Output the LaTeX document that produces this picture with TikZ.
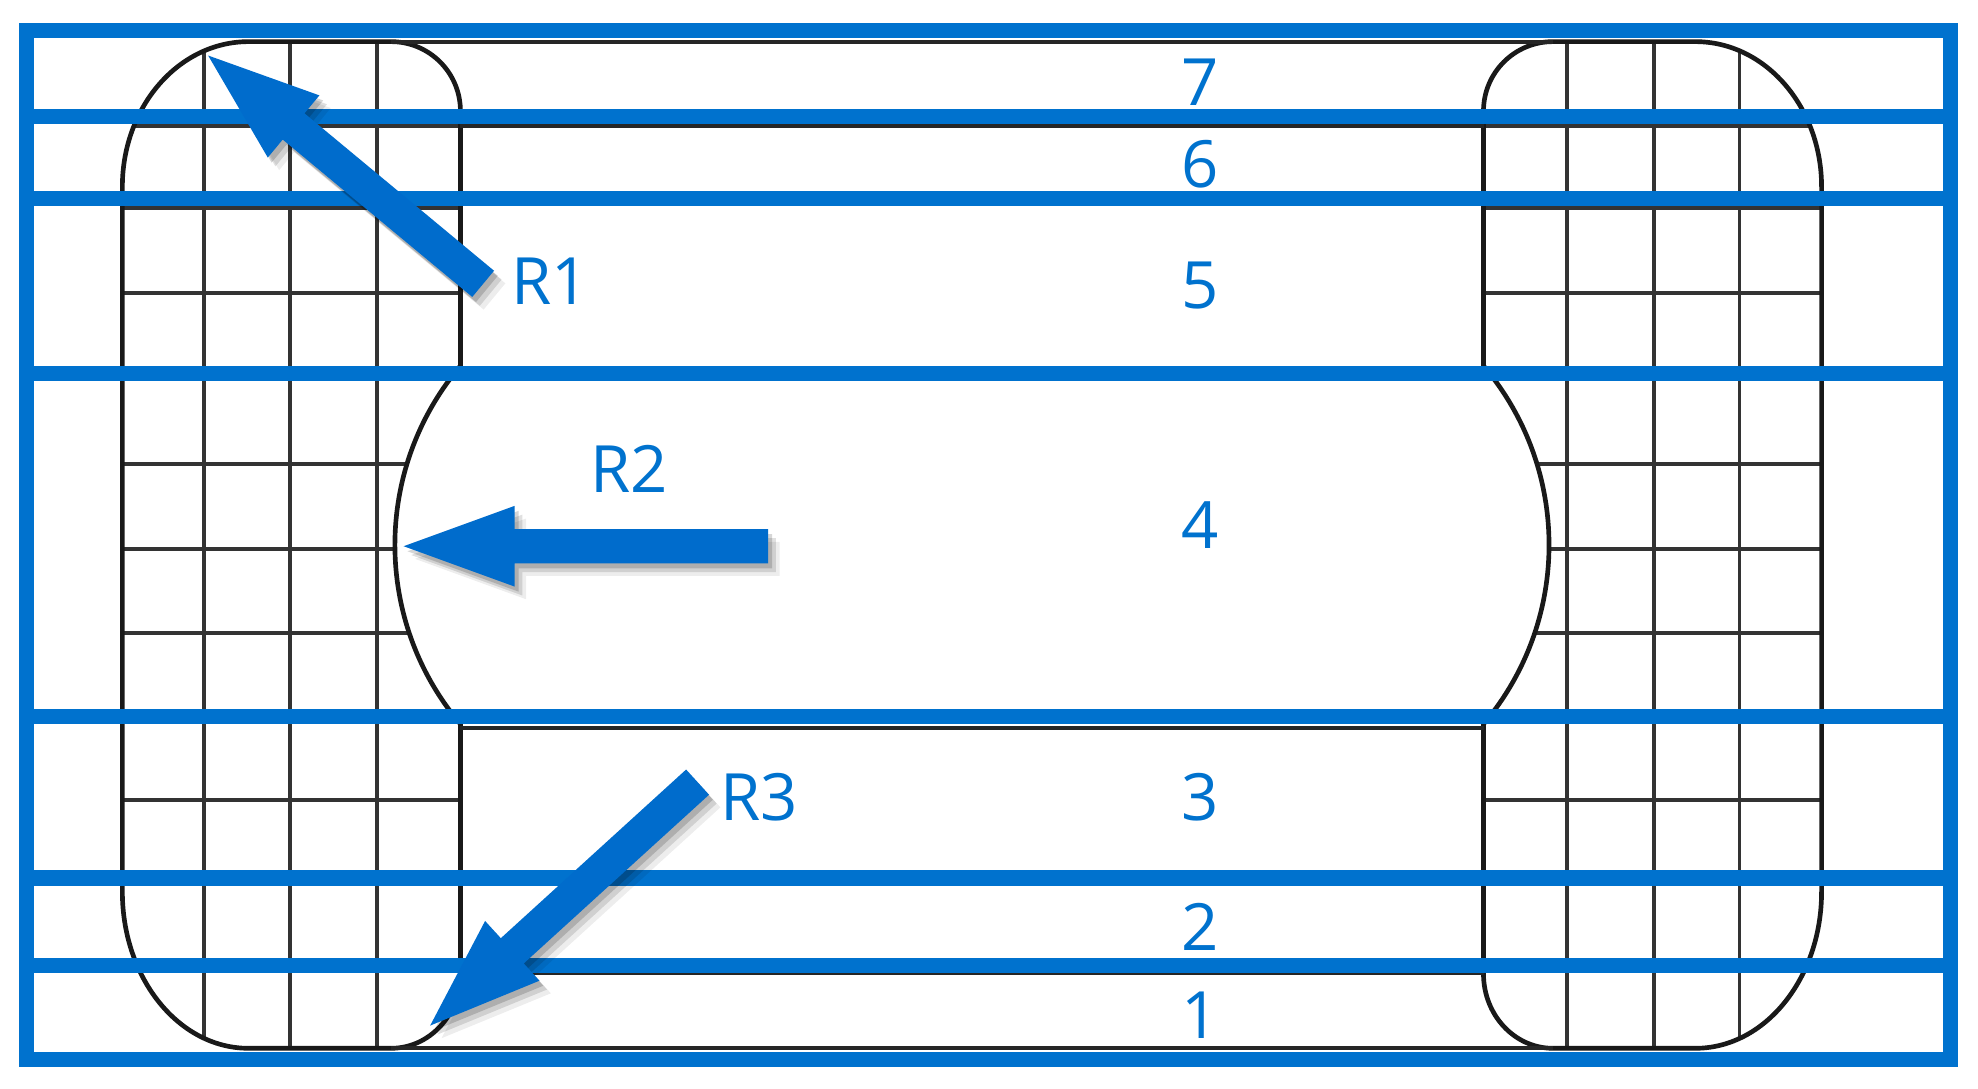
\documentclass[tikz,border=0pt]{standalone}
\usepackage{fontspec}
\setmainfont{Open Sans}
\usetikzlibrary{calc}
\definecolor{bl}{RGB}{0,114,206}
\definecolor{arrbl}{RGB}{0,108,204}
\newcommand\blockpath{(97,148) arc[start angle=180,end angle=270,x radius=100,y radius=115] -- (310,33) arc[start angle=270,end angle=360,radius=55] -- (365,290) arc[start angle=220.2,end angle=139.8,radius=220] -- (365,772) arc[start angle=0,end angle=90,x radius=55,y radius=59] -- (197,831) arc[start angle=90,end angle=180,x radius=100,y radius=124] -- cycle}
\newcommand\drawblock{%
  \begin{scope}
    \clip \blockpath;
    \foreach \gx in {162,230,299} \draw[gridline] (\gx,0) -- (\gx,863);
    \foreach \gy in {100,165,232,368,435,502,634} \draw[gridline] (0,\gy) -- (600,\gy);
  \end{scope}
  \draw[outline] \blockpath;
}
\newcommand\arrowshape[2]{($(#1)!0.135cm!90:(#2)$) -- ($(#1b)!0.135cm!90:(#2)$) -- ($(#1b)!0.32cm!90:(#2)$) -- (#2) -- ($(#1b)!0.32cm!-90:(#2)$) -- ($(#1b)!0.135cm!-90:(#2)$) -- ($(#1)!0.135cm!-90:(#2)$) -- cycle}
\newcommand\fatarrow[2]{%
  \coordinate (#1b) at ($(#2)!0.88cm!(#1)$);
  \fill[black,opacity=0.07,transform canvas={shift={(0.09cm,-0.10cm)}}] \arrowshape{#1}{#2};
  \fill[black,opacity=0.12,transform canvas={shift={(0.06cm,-0.07cm)}}] \arrowshape{#1}{#2};
  \fill[black,opacity=0.16,transform canvas={shift={(0.03cm,-0.04cm)}}] \arrowshape{#1}{#2};
  \fill[arrbl] \arrowshape{#1}{#2};
}
\begin{document}
\begin{tikzpicture}[x=0.01cm,y=-0.01cm,
  gridline/.style={draw=black!80,line width=0.85pt},
  outline/.style={draw=black!90,line width=1.05pt},
  midline/.style={draw=black!85,line width=0.9pt},
  blueline/.style={draw=bl,line width=3.4pt},
  lab/.style={text=bl,inner sep=0pt,font=\fontsize{14.7}{17}\selectfont}]
\fill[white] (0,0) rectangle (1568,863);
\useasboundingbox (0,0) rectangle (1568,863);
% black outline drawing
\drawblock
\begin{scope}[shift={(1541,0)},xscale=-1]
  \drawblock
\end{scope}
\draw[midline] (310,33) -- (1231,33);
\draw[midline] (365,100) -- (1176,100);
\draw[midline] (365,577) -- (1176,577);
\draw[midline] (365,771) -- (1176,771);
\draw[midline] (310,831) -- (1231,831);
% blue frame and layer lines
\draw[blueline] (21,24) rectangle (1546,840);
\foreach \yy in {92,157,296,568,696,765}
  \draw[blueline] (21,\yy) -- (1546,\yy);
% layer numbers
\node[lab] (n7) at (951,65) {7};
\node[lab] (n6) at (951,130) {6};
\node[lab] (n5) at (951,226) {5};
\node[lab] (n4) at (951,416) {4};
\node[lab] (n3) at (951,632) {3};
\node[lab] (n2) at (951,735) {2};
\node[lab] (n1) at (951,805) {1};
% arrows
\coordinate (a1t) at (383,225);
\coordinate (a1p) at (165,44);
\coordinate (a2t) at (609,433);
\coordinate (a2p) at (320,433);
\coordinate (a3t) at (553,620);
\coordinate (a3p) at (341,813);
\fatarrow{a1t}{a1p}
\fatarrow{a2t}{a2p}
\fatarrow{a3t}{a3p}
\node[lab] (r1) at (436,223) {R1};
\node[lab] (r2) at (499,372) {R2};
\node[lab] (r3) at (602,632) {R3};
\end{tikzpicture}
\end{document}
